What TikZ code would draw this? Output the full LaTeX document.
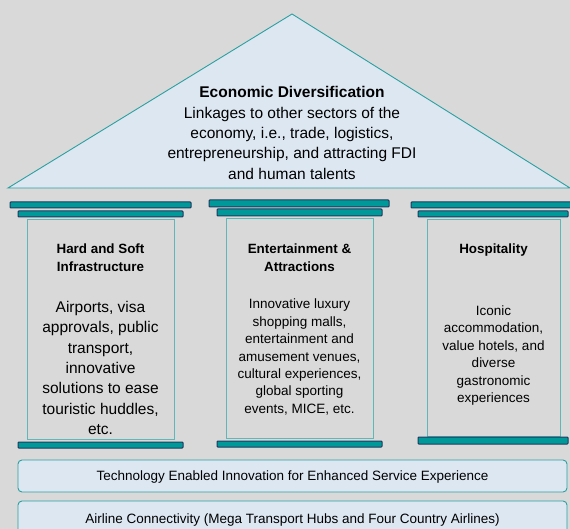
\documentclass[tikz,border=0pt]{standalone}
\usepackage{fontspec}
\setmainfont{Liberation Sans}
\definecolor{bggray}{HTML}{D9D9D9}
\definecolor{pale}{HTML}{DDE7F2}
\definecolor{tealfill}{HTML}{009999}
\definecolor{tealline}{HTML}{2AA0A0}
\definecolor{navy}{HTML}{1F3A5F}

\begin{document}
\begin{tikzpicture}[
  x=1pt,y=-1pt,
  roof/.style={draw=tealline,fill=pale,line width=0.9pt,line join=miter},
  bar/.style={draw=navy,fill=tealfill,line width=1pt,rounded corners=0.8pt},
  body/.style={draw=tealline!75!white,line width=0.9pt},
  band/.style={draw=tealline,fill=pale,line width=0.9pt,rounded corners=4pt},
  head/.style={align=center,inner sep=0pt,font=\fontsize{13.4}{18}\selectfont\bfseries},
  big/.style={align=center,inner sep=0pt,font=\fontsize{15.5}{20.4}\selectfont},
  small/.style={align=center,inner sep=0pt,font=\fontsize{13.5}{17.4}\selectfont},
]
  \fill[bggray] (0,0) rectangle (570,529);
  \useasboundingbox (0,0) rectangle (570,529);
  \clip (0,0) rectangle (570,529);

  % roof
  \draw[roof] (8,188) -- (292,14) -- (570,188) -- cycle;
  \node[big] (roof) at (292,133)
    {\textbf{Economic Diversification}\\Linkages to other sectors of the\\economy, i.e., trade, logistics,\\entrepreneurship, and attracting FDI\\and human talents};

  % pillars
  \draw[bar] (10,202) rectangle (191,208);
  \draw[bar] (18,211) rectangle (183,217);
  \draw[body] (27,219) rectangle (174,439);
  \draw[bar] (18,442) rectangle (183,448);

  \draw[bar] (209,200) rectangle (389,207);
  \draw[bar] (217,209) rectangle (382,216);
  \draw[body] (226,218) rectangle (373,438);
  \draw[bar] (217,441) rectangle (382,447);

  \draw[bar] (411,202) rectangle (572,208);
  \draw[bar] (418,211) rectangle (568,217);
  \draw[body] (427,219) rectangle (560,436);
  \draw[bar] (418,437) rectangle (568,444);

  \node[head] (h1) at (100.5,258) {Hard and Soft\\Infrastructure};
  \node[big] (t1) at (100.5,368)
    {Airports, visa\\approvals, public\\transport,\\innovative\\solutions to ease\\touristic huddles,\\etc.};

  \node[head] (h2) at (299.5,257.5) {Entertainment \&\\Attractions};
  \node[small] (t2) at (299.5,357)
    {Innovative luxury\\shopping malls,\\entertainment and\\amusement venues,\\cultural experiences,\\global sporting\\events, MICE, etc.};

  \node[head] (h3) at (493.5,250) {Hospitality};
  \node[small] (t3) at (493.5,355.5)
    {Iconic\\accommodation,\\value hotels, and\\diverse\\gastronomic\\experiences};

  % foundation
  \draw[band] (18,460) rectangle (567,492);
  \node[small] (b1) at (292.5,477.5) {Technology Enabled Innovation for Enhanced Service Experience};
  \draw[band] (18,501) rectangle (567,540);
  \node[small] (b2) at (292.5,520) {Airline Connectivity (Mega Transport Hubs and Four Country Airlines)};
\end{tikzpicture}
\end{document}
